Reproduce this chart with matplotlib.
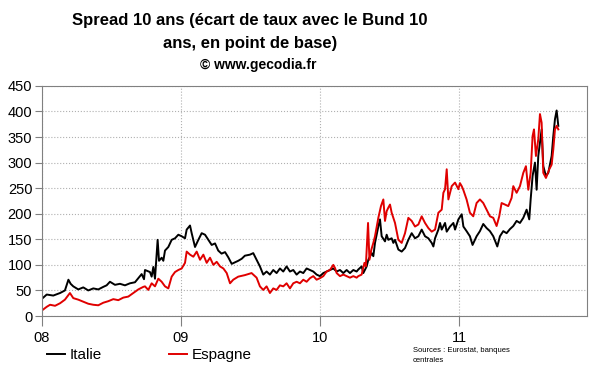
import matplotlib
matplotlib.use("Agg")
import matplotlib.pyplot as plt

plt.rcParams['font.family'] = ['Liberation Sans', 'DejaVu Sans']

# time in years since 1 Jan 2008, spread in basis points
t_italie = [0.005, 0.034, 0.081, 0.13, 0.165, 0.19, 0.206, 0.225, 0.261, 0.297,
            0.333, 0.369, 0.405, 0.441, 0.465, 0.489, 0.525, 0.561, 0.597, 0.633,
            0.669, 0.693, 0.717, 0.734, 0.741, 0.777, 0.789, 0.801, 0.813, 0.832,
            0.842, 0.861, 0.873, 0.885, 0.909, 0.933, 0.957, 0.981, 1.005, 1.029,
            1.041, 1.065, 1.077, 1.101, 1.125, 1.149, 1.173, 1.197, 1.221, 1.245,
            1.268, 1.292, 1.317, 1.34, 1.365, 1.388, 1.412, 1.437, 1.46, 1.496,
            1.52, 1.544, 1.568, 1.592, 1.616, 1.64, 1.664, 1.688, 1.712, 1.736,
            1.76, 1.784, 1.808, 1.832, 1.856, 1.88, 1.904, 1.928, 1.952, 1.976,
            2.0, 2.024, 2.048, 2.072, 2.096, 2.12, 2.144, 2.168, 2.192, 2.216,
            2.24, 2.264, 2.276, 2.3, 2.312, 2.336, 2.348, 2.372, 2.384, 2.396,
            2.42, 2.432, 2.444, 2.468, 2.48, 2.492, 2.516, 2.528, 2.54, 2.564,
            2.588, 2.612, 2.636, 2.66, 2.684, 2.708, 2.732, 2.756, 2.78, 2.804,
            2.816, 2.828, 2.852, 2.864, 2.876, 2.9, 2.912, 2.936, 2.96, 2.972,
            2.996, 3.02, 3.032, 3.055, 3.079, 3.098, 3.127, 3.151, 3.175, 3.199,
            3.223, 3.247, 3.276, 3.295, 3.319, 3.343, 3.367, 3.391, 3.415, 3.439,
            3.463, 3.487, 3.506, 3.516, 3.53, 3.547, 3.559, 3.571, 3.583, 3.595,
            3.607, 3.626, 3.643, 3.667, 3.679, 3.691, 3.703, 3.715]
italie = [35, 42, 40, 45, 50, 71, 63, 58, 52, 56,
          50, 54, 52, 57, 60, 67, 61, 63, 60, 64,
          66, 74, 82, 72, 90, 86, 77, 96, 73, 149,
          108, 114, 108, 128, 135, 149, 152, 159, 156, 152,
          169, 177, 162, 135, 149, 162, 159, 149, 139, 142,
          128, 122, 125, 115, 102, 105, 108, 112, 118, 120,
          123, 110, 97, 81, 87, 81, 90, 84, 93, 87,
          97, 87, 90, 81, 87, 84, 93, 90, 87, 81,
          78, 84, 87, 90, 93, 87, 90, 84, 90, 84,
          90, 87, 91, 97, 84, 97, 110, 123, 117, 143,
          175, 189, 156, 146, 159, 149, 152, 143, 149, 130,
          126, 133, 149, 162, 152, 156, 169, 156, 152, 143,
          136, 152, 169, 182, 169, 182, 165, 175, 182, 169,
          189, 199, 175, 166, 156, 139, 156, 166, 180, 172,
          166, 156, 136, 156, 166, 162, 170, 176, 186, 182,
          192, 208, 189, 228, 274, 300, 247, 313, 339, 365,
          293, 274, 280, 313, 352, 385, 402, 372]

t_espagne = [0.005, 0.034, 0.058, 0.094, 0.13, 0.165, 0.201, 0.225, 0.261, 0.297,
             0.333, 0.369, 0.405, 0.441, 0.477, 0.513, 0.549, 0.585, 0.621, 0.657,
             0.693, 0.729, 0.741, 0.765, 0.789, 0.813, 0.837, 0.861, 0.885, 0.909,
             0.933, 0.957, 0.981, 1.005, 1.029, 1.041, 1.065, 1.089, 1.113, 1.137,
             1.161, 1.185, 1.209, 1.233, 1.257, 1.281, 1.305, 1.329, 1.353, 1.376,
             1.412, 1.46, 1.508, 1.544, 1.568, 1.592, 1.616, 1.64, 1.664, 1.688,
             1.712, 1.736, 1.76, 1.784, 1.808, 1.832, 1.856, 1.88, 1.904, 1.928,
             1.952, 1.976, 2.0, 2.024, 2.048, 2.072, 2.096, 2.108, 2.12, 2.144,
             2.168, 2.192, 2.216, 2.24, 2.264, 2.276, 2.3, 2.32, 2.33, 2.346,
             2.356, 2.37, 2.384, 2.396, 2.42, 2.439, 2.456, 2.468, 2.48, 2.492,
             2.504, 2.516, 2.54, 2.564, 2.588, 2.612, 2.636, 2.66, 2.684, 2.708,
             2.732, 2.756, 2.78, 2.804, 2.828, 2.84, 2.852, 2.876, 2.888, 2.9,
             2.912, 2.924, 2.948, 2.972, 2.996, 3.007, 3.02, 3.031, 3.055, 3.079,
             3.103, 3.127, 3.151, 3.175, 3.199, 3.223, 3.247, 3.271, 3.29, 3.307,
             3.331, 3.355, 3.379, 3.391, 3.415, 3.439, 3.463, 3.482, 3.499, 3.516,
             3.53, 3.54, 3.554, 3.571, 3.583, 3.595, 3.607, 3.626, 3.65, 3.667,
             3.679, 3.691, 3.703, 3.715]
espagne = [12, 18, 22, 20, 25, 32, 45, 35, 32, 28,
           24, 22, 21, 26, 29, 33, 31, 36, 38, 45,
           52, 57, 58, 51, 64, 58, 73, 67, 58, 54,
           77, 86, 90, 93, 104, 126, 120, 116, 126, 110,
           120, 104, 114, 100, 106, 97, 93, 84, 64, 71,
           77, 80, 84, 75, 58, 51, 58, 45, 54, 51,
           60, 58, 64, 54, 64, 67, 64, 71, 67, 74,
           78, 71, 74, 78, 87, 90, 100, 94, 84, 78,
           81, 78, 75, 78, 75, 78, 81, 104, 97, 182,
           110, 130, 143, 156, 192, 215, 228, 186, 205, 212,
           218, 202, 182, 149, 143, 162, 192, 186, 175, 179,
           195, 182, 172, 165, 169, 186, 202, 208, 241, 248,
           287, 228, 254, 261, 248, 260, 254, 247, 228, 202,
           195, 221, 228, 221, 208, 195, 192, 176, 195, 221,
           218, 215, 231, 254, 241, 254, 280, 293, 247, 280,
           352, 365, 313, 346, 395, 378, 280, 270, 287, 296,
           326, 365, 372, 365]

year_ticks = [0, 1, 2, 3]
year_labels = ["08", "09", "10", "11"]

fig = plt.figure(figsize=(6, 3.72), dpi=100)
ax = fig.add_axes([0.07, 0.1505, 0.908, 0.6185])

ax.plot(t_italie, italie, color='black', lw=1.4, label='Italie')
ax.plot(t_espagne, espagne, color='#e00000', lw=1.4, label='Espagne')

ax.set_xlim(0, 3.92)
ax.set_ylim(0, 450)
ax.set_yticks(range(0, 451, 50))
ax.set_xticks(year_ticks)
ax.set_xticklabels(year_labels)
ax.grid(True, linestyle=':', color='#b0b0b0', lw=0.8)
for s in ax.spines.values():
    s.set_color('#808080')
ax.tick_params(axis='y', length=5, color='#808080', labelsize=10.5, pad=2)
ax.tick_params(axis='x', length=7, color='#808080', labelsize=10.5, pad=4)

fig.text(0.417, 0.944, "Spread 10 ans (écart de taux avec le Bund 10",
         ha='center', va='center', fontsize=12, fontweight='bold')
fig.text(0.417, 0.884, "ans, en point de base)",
         ha='center', va='center', fontsize=12, fontweight='bold')
fig.text(0.43, 0.825, "© www.gecodia.fr",
         ha='center', va='center', fontsize=10, fontweight='bold')

fig.legend(loc='center left', bbox_to_anchor=(0.055, 0.045), ncol=2, frameon=False,
           fontsize=11, handlelength=1.2, handletextpad=0.3, columnspacing=4.4)
fig.text(0.688, 0.045, "Sources : Eurostat, banques\ncentrales",
         ha='left', va='center', fontsize=5.5, linespacing=1.5)

fig.savefig("out.png", dpi=100)
